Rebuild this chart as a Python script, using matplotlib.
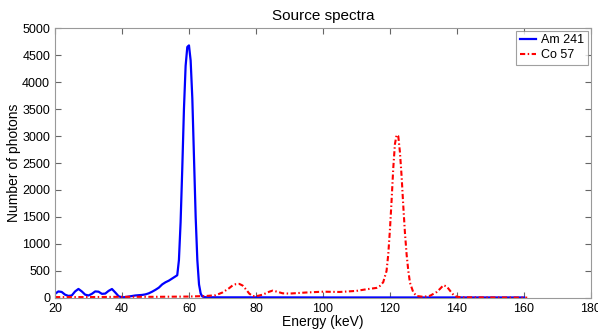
import numpy as np
from matplotlib import pyplot as plt

plt.rcParams['font.family'] = ['Liberation Sans', 'DejaVu Sans']

# Am 241 spectrum (energy keV, counts)
am_e = [20, 21, 22, 23, 24, 25, 26, 27, 28, 29, 30, 31, 32, 33, 34, 35, 36, 37, 38, 39,
        40, 41, 42, 43, 44, 45, 46, 47, 48, 49, 50, 51, 52, 53, 54, 55, 56, 56.5,
        57, 57.5, 58, 58.5, 59, 59.5, 60, 60.5, 61, 61.5, 62, 62.5, 63, 63.5, 64, 65,
        70, 80, 100, 120, 140, 160]
am_n = [75, 120, 110, 60, 37, 45, 120, 166, 120, 60, 45, 75, 120, 115, 75, 80, 130, 165, 100, 30,
        10, 15, 25, 35, 45, 50, 55, 65, 85, 115, 150, 190, 250, 290, 320, 360, 400, 420,
        700, 1400, 2400, 3500, 4300, 4650, 4680, 4400, 3700, 2600, 1500, 700, 250, 80, 25, 12,
        10, 10, 8, 8, 8, 8]

# Co 57 spectrum
co_e = [20, 30, 40, 50, 60, 65, 68, 70, 72, 73, 74, 75, 76, 77, 78, 79, 80, 82, 84, 85, 86,
        88, 90, 95, 100, 105, 110, 113, 116, 117, 118, 119, 119.5, 120, 120.5, 121, 121.5,
        122, 122.5, 123, 123.5, 124, 124.5, 125, 125.5, 126, 127, 128, 130, 132, 134, 135,
        136, 137, 138, 139, 140, 142, 150, 161]
co_n = [15, 15, 20, 20, 25, 35, 50, 100, 180, 230, 255, 260, 230, 160, 80, 35, 30, 60, 115, 135, 120,
        85, 80, 100, 115, 110, 130, 160, 185, 220, 290, 500, 800, 1250, 1800, 2400, 2850,
        3020, 3000, 2700, 2250, 1700, 1200, 800, 500, 280, 100, 35, 20, 40, 110, 170,
        235, 210, 130, 55, 20, 10, 8, 5]

fig = plt.figure(figsize=(5.98, 3.31), dpi=100)
ax = fig.add_axes([0.092, 0.1, 0.896, 0.815])
ax.plot(am_e, am_n, '-', color='#0000ff', lw=1.6, label='Am 241')
ax.plot(co_e, co_n, color='#ff0000', lw=1.5, linestyle=(0, (2.5, 1.2, 0.7, 1.2)), label='Co 57')

ax.set_xlim(20, 180)
ax.set_ylim(0, 5000)
ax.set_xticks(np.arange(20, 181, 20))
ax.set_yticks(np.arange(0, 5001, 500))
ax.tick_params(direction='in', top=True, right=True, labelsize=9, length=4, color='#666666')
for s in ax.spines.values():
    s.set_color('#999999')
ax.set_xlabel('Energy (keV)', fontsize=10, labelpad=0)
ax.set_ylabel('Number of photons', fontsize=10, labelpad=1)
ax.set_title('Source spectra', fontsize=11, pad=6)
leg = ax.legend(loc='upper right', fontsize=9, fancybox=False, borderaxespad=0.2,
                handlelength=1.3, handletextpad=0.4, borderpad=0.3, labelspacing=0.2)
leg.get_frame().set_edgecolor('#888888')
leg.get_frame().set_linewidth(0.8)

fig.savefig('out.png', dpi=100)
